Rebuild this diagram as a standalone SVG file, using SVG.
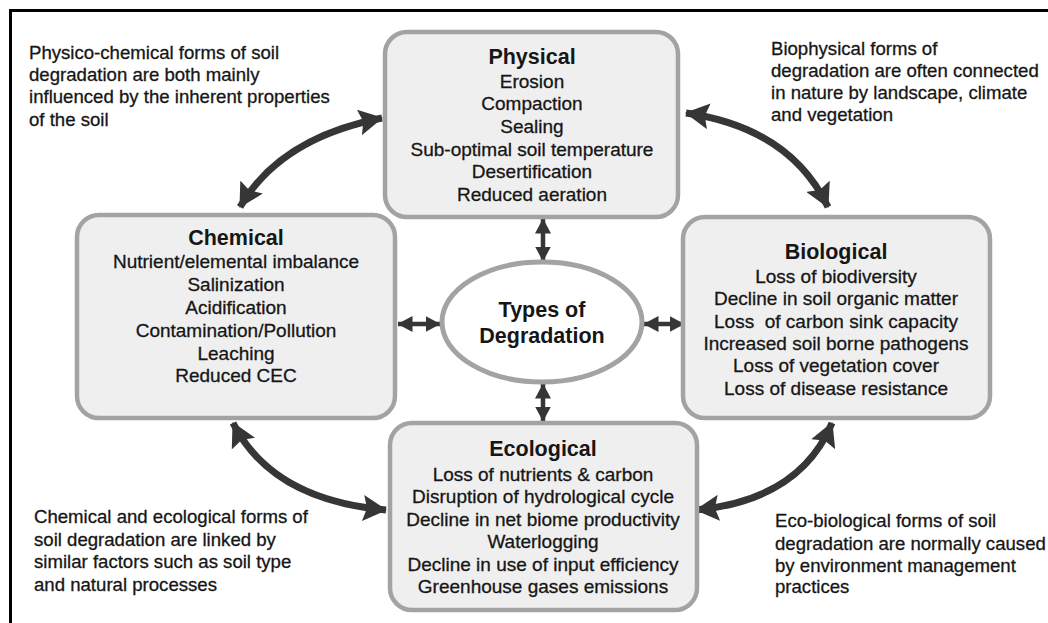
<svg xmlns="http://www.w3.org/2000/svg" width="1048" height="623" viewBox="0 0 1048 623">
<defs>
<style>
.box{fill:#efefef;stroke:#a3a3a3;stroke-width:4.5}
.ell{fill:#ffffff;stroke:#a3a3a3;stroke-width:5}
.t{font-family:"Liberation Sans",Arial,sans-serif;fill:#161616;text-anchor:middle}
.h{font-size:21.5px;font-weight:bold}
.i{font-size:19px;stroke:#161616;stroke-width:0.3}
.a{font-family:"Liberation Sans",Arial,sans-serif;fill:#161616;font-size:18.6px;stroke:#161616;stroke-width:0.3}
.big{fill:none;stroke:#363636;stroke-width:7;marker-start:url(#bh);marker-end:url(#bh)}
.sm{fill:none;stroke:#363636;stroke-width:4.5;marker-start:url(#sh);marker-end:url(#sh)}
</style>
<marker id="bh" viewBox="0 0 24 26" refX="23" refY="13" markerWidth="24" markerHeight="26" markerUnits="userSpaceOnUse" orient="auto-start-reverse">
<path d="M0,0 L24,13 L0,26 L4,13 Z" fill="#363636"/>
</marker>
<marker id="sh" viewBox="0 0 15 16" refX="14.5" refY="8" markerWidth="15" markerHeight="16" markerUnits="userSpaceOnUse" orient="auto-start-reverse">
<path d="M0,0 L15,8 L0,16 Z" fill="#363636"/>
</marker>
</defs>
<rect width="1048" height="623" fill="#ffffff"/>
<path d="M10.5,623 L10.5,10.5 L1048,10.5" fill="none" stroke="#000" stroke-width="3"/>

<g id="connectors">
<path class="big" d="M240,207 Q280,138 382,118"/>
<path class="big" d="M686,113 Q790,128 828,207"/>
<path class="big" d="M233,423 Q272,500 386,510"/>
<path class="big" d="M832,423 Q800,500 696,510"/>
<path class="sm" d="M543,219 L543,261"/>
<path class="sm" d="M543,384 L543,421"/>
<path class="sm" d="M398,324 L440,324"/>
<path class="sm" d="M644,324 L684,324"/>
</g>

<g id="physical">
<rect class="box" x="385" y="32" width="293" height="185" rx="22"/>
<text class="t h" x="532" y="64">Physical</text>
<text class="t i" x="532" y="88">Erosion</text>
<text class="t i" x="532" y="110">Compaction</text>
<text class="t i" x="532" y="133">Sealing</text>
<text class="t i" x="532" y="156">Sub-optimal soil temperature</text>
<text class="t i" x="532" y="178">Desertification</text>
<text class="t i" x="532" y="201">Reduced aeration</text>
</g>

<g id="chemical">
<rect class="box" x="77" y="215" width="318" height="203" rx="22"/>
<text class="t h" x="236" y="245">Chemical</text>
<text class="t i" x="236" y="268">Nutrient/elemental imbalance</text>
<text class="t i" x="236" y="291">Salinization</text>
<text class="t i" x="236" y="314">Acidification</text>
<text class="t i" x="236" y="337">Contamination/Pollution</text>
<text class="t i" x="236" y="360">Leaching</text>
<text class="t i" x="236" y="382">Reduced CEC</text>
</g>

<g id="biological">
<rect class="box" x="683" y="217" width="307" height="201" rx="22"/>
<text class="t h" x="836" y="259">Biological</text>
<text class="t i" x="836" y="283">Loss of biodiversity</text>
<text class="t i" x="836" y="305">Decline in soil organic matter</text>
<text class="t i" x="836" y="328" xml:space="preserve">Loss  of carbon sink capacity</text>
<text class="t i" x="836" y="350">Increased soil borne pathogens</text>
<text class="t i" x="836" y="372">Loss of vegetation cover</text>
<text class="t i" x="836" y="395">Loss of disease resistance</text>
</g>

<g id="ecological">
<rect class="box" x="390" y="423" width="307" height="187" rx="22"/>
<text class="t h" x="543" y="456">Ecological</text>
<text class="t i" x="543" y="481">Loss of nutrients &amp; carbon</text>
<text class="t i" x="543" y="503">Disruption of hydrological cycle</text>
<text class="t i" x="543" y="526">Decline in net biome productivity</text>
<text class="t i" x="543" y="548">Waterlogging</text>
<text class="t i" x="543" y="571">Decline in use of input efficiency</text>
<text class="t i" x="543" y="593">Greenhouse gases emissions</text>
</g>

<g id="types">
<ellipse class="ell" cx="542" cy="322" rx="100" ry="60"/>
<text class="t h" x="542" y="317">Types of</text>
<text class="t h" x="542" y="343">Degradation</text>
</g>

<g id="note-physico-chemical">
<text class="a" x="29" y="59">Physico-chemical forms of soil</text>
<text class="a" x="29" y="81">degradation are both mainly</text>
<text class="a" x="29" y="103">influenced by the inherent properties</text>
<text class="a" x="29" y="126">of the soil</text>
</g>
<g id="note-biophysical">
<text class="a" x="771" y="55">Biophysical forms of</text>
<text class="a" x="771" y="77">degradation are often connected</text>
<text class="a" x="771" y="99">in nature by landscape, climate</text>
<text class="a" x="771" y="121">and vegetation</text>
</g>
<g id="note-chemical-ecological">
<text class="a" x="34" y="523">Chemical and ecological forms of</text>
<text class="a" x="34" y="546">soil degradation are linked by</text>
<text class="a" x="34" y="568">similar factors such as soil type</text>
<text class="a" x="34" y="591">and natural processes</text>
</g>
<g id="note-eco-biological">
<text class="a" x="775" y="527">Eco-biological forms of soil</text>
<text class="a" x="775" y="550">degradation are normally caused</text>
<text class="a" x="775" y="572">by environment management</text>
<text class="a" x="775" y="593">practices</text>
</g>
</svg>
